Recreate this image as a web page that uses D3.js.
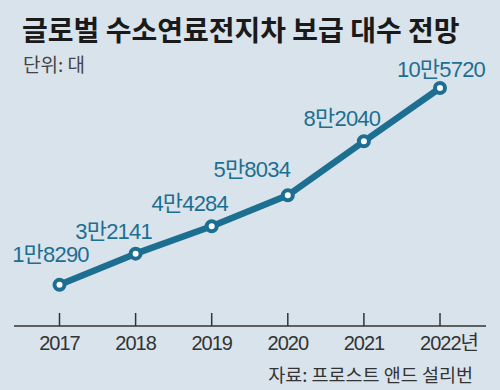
<!DOCTYPE html>
<html>
<head>
<meta charset="utf-8">
<script src="https://cdn.jsdelivr.net/npm/d3@7"></script>
<style>
  body { margin: 0; background: #d9e3eb; }
  svg { display: block; }
</style>
</head>
<body>
<script>
var svg_Width = 500;
var svg_Height = 390;

// chart data
var years = ["2017", "2018", "2019", "2020", "2021", "2022"];
var yearLabels = ["2017", "2018", "2019", "2020", "2021", "2022년"];
var cars = [18290, 32141, 44284, 58034, 82040, 105720];
var carLabels = ["1만8290", "3만2141", "4만4284", "5만8034", "8만2040", "10만5720"];

var lineColor = "#1d6f91";
var numFont = "'Liberation Sans', 'Noto Sans CJK KR', sans-serif";

var svg = d3.select("body")
  .append("svg")
  .attr("width", svg_Width)
  .attr("height", svg_Height);

svg.append("rect")
  .attr("width", svg_Width)
  .attr("height", svg_Height)
  .attr("fill", "#d9e3eb");

// title
svg.append("text")
  .attr("x", 22)
  .attr("y", 41)
  .attr("font-family", "'Noto Sans CJK KR', sans-serif")
  .attr("font-weight", "bold")
  .attr("font-size", 28)
  .attr("fill", "#1a1a1a")
  .text("글로벌 수소연료전지차 보급 대수 전망");

svg.append("text")
  .attr("x", 23)
  .attr("y", 72)
  .attr("font-family", "'Noto Sans CJK KR', sans-serif")
  .attr("font-size", 19)
  .attr("fill", "#444")
  .text("단위: 대");

// scales
var x = d3.scalePoint()
  .domain(years)
  .range([59.5, 440]);

var y = d3.scaleLinear()
  .domain([0, d3.max(cars)])
  .range([326, 88]);

// x axis
var axis_g = svg.append("g")
  .attr("transform", "translate(0, 326)");

axis_g.append("line")
  .attr("x1", 14)
  .attr("x2", 486)
  .attr("stroke", "#333")
  .attr("stroke-width", 1.5);

axis_g.selectAll(".tick")
  .data(years)
  .enter()
  .append("line")
  .attr("x1", d => x(d))
  .attr("x2", d => x(d))
  .attr("y1", 0)
  .attr("y2", -13)
  .attr("stroke", "#333")
  .attr("stroke-width", 1.5);

axis_g.selectAll(".yr")
  .data(years)
  .enter()
  .append("text")
  .attr("x", (d, i) => x(d) + (i === years.length - 1 ? 9 : 0))
  .attr("y", 24)
  .attr("text-anchor", "middle")
  .attr("font-family", numFont)
  .attr("font-size", 20)
  .attr("letter-spacing", -1)
  .attr("fill", "#333")
  .text((d, i) => yearLabels[i]);

// line
var line = d3.line()
  .x((d, i) => x(years[i]))
  .y(d => y(d));

svg.append("path")
  .datum(cars)
  .attr("d", line)
  .attr("fill", "none")
  .attr("stroke", lineColor)
  .attr("stroke-width", 6.5)
  .attr("stroke-linejoin", "round");

svg.selectAll(".dot")
  .data(cars)
  .enter()
  .append("circle")
  .attr("cx", (d, i) => x(years[i]))
  .attr("cy", d => y(d))
  .attr("r", 5)
  .attr("fill", "#fff")
  .attr("stroke", lineColor)
  .attr("stroke-width", 4);

// value labels, nudged above-left of each point
svg.selectAll(".val")
  .data(cars)
  .enter()
  .append("text")
  .attr("x", (d, i) => {
    if (i === cars.length - 1) return x(years[i]) + 1;
    if (i === 3) return x(years[i]) - 36;
    return x(years[i]) - (i === 0 ? 9 : 22);
  })
  .attr("y", (d, i) => {
    if (i === 0) return y(d) - 23;
    if (i === 3) return y(d) - 18;
    if (i === cars.length - 1) return y(d) - 11;
    return y(d) - 15;
  })
  .attr("text-anchor", "middle")
  .attr("font-family", numFont)
  .attr("font-size", 22)
  .attr("letter-spacing", -0.8)
  .attr("fill", lineColor)
  .text((d, i) => carLabels[i]);

// source
svg.append("text")
  .attr("x", 473)
  .attr("y", 382)
  .attr("text-anchor", "end")
  .attr("font-family", "'Noto Sans CJK KR', sans-serif")
  .attr("font-size", 18.5)
  .attr("fill", "#333")
  .text("자료: 프로스트 앤드 설리번");
</script>
</body>
</html>
